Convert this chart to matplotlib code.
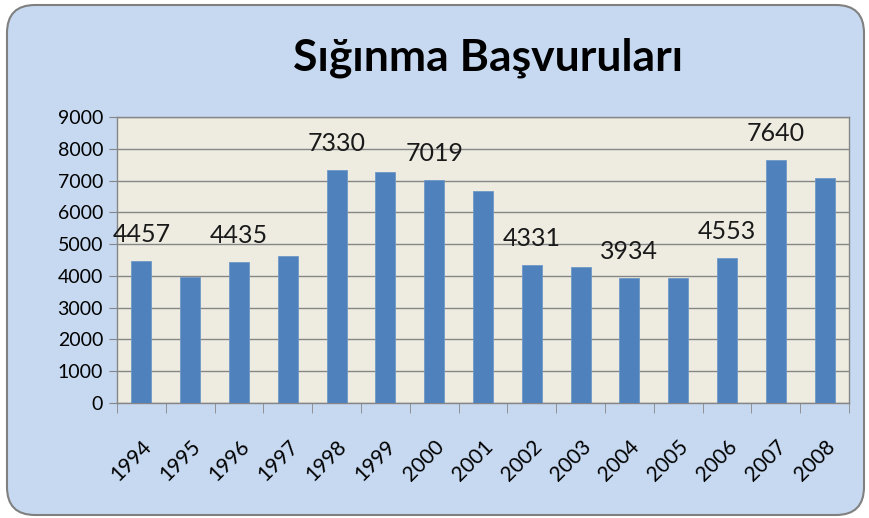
import matplotlib
matplotlib.use("Agg")
import matplotlib.pyplot as plt
from matplotlib.patches import FancyBboxPatch
import numpy as np

plt.rcParams['font.family'] = ['Lato', 'DejaVu Sans']

# Sığınma başvuruları
years = ['1994', '1995', '1996', '1997', '1998', '1999', '2000', '2001',
         '2002', '2003', '2004', '2005', '2006', '2007', '2008']
applications = [4457, 3970, 4435, 4620, 7330, 7280, 7019, 6670,
                4331, 4290, 3934, 3930, 4553, 7640, 7070]
labelled_years = ['1994', '1996', '1998', '2000', '2002', '2004', '2006', '2007']
y_ticks = [0, 1000, 2000, 3000, 4000, 5000, 6000, 7000, 8000, 9000]

W, H = 869, 518
fig = plt.figure(figsize=(W / 100, H / 100), dpi=100)
fig.patch.set_facecolor('white')

# rounded chart-area background (pixel units)
bg = fig.add_axes([0, 0, 1, 1])
bg.set_xlim(0, W)
bg.set_ylim(0, H)
bg.axis('off')
frame = FancyBboxPatch((7, 3), W - 12, H - 8,
                       boxstyle="round,pad=0,rounding_size=28",
                       facecolor='#C6D9F1', edgecolor='#808080', linewidth=1.5)
bg.add_patch(frame)

fig.text(488 / W, 1 - 58 / H, 'Sığınma Başvuruları', ha='center', va='center',
         fontsize=32, fontweight='bold', color='black')

ax = fig.add_axes([117 / W, 1 - 403 / H, (849 - 117) / W, (403 - 117) / H])
ax.set_facecolor('#EEECE1')

x = np.arange(len(years))
ax.bar(x, applications, width=0.41, color='#4F81BD', edgecolor='#6F97C8',
       linewidth=0.6, zorder=3)

for i, (yr, v) in enumerate(zip(years, applications)):
    if yr in labelled_years:
        ax.annotate(str(v), (i, v), xytext=(0, 14), textcoords='offset points',
                    ha='center', va='baseline', fontsize=18, color='#1a1a1a')

ax.set_xlim(-0.5, len(years) - 0.5)
ax.set_ylim(0, 9000)
ax.set_yticks(y_ticks)
ax.set_yticklabels([str(t) for t in y_ticks], fontsize=14)
ax.yaxis.grid(True, color='#868686', linewidth=1, zorder=0)
ax.set_axisbelow(True)

ax.set_xticks(x)
ax.set_xticklabels(years, rotation=45, ha='right', rotation_mode='anchor',
                   fontsize=15)
ax.tick_params(axis='x', length=0, pad=24)
ax.set_xticks(np.arange(-0.5, len(years), 1), minor=True)
ax.tick_params(axis='x', which='minor', length=7, color='#868686', direction='out')
ax.tick_params(axis='y', length=6, color='#868686', direction='out', pad=4)

for s in ax.spines.values():
    s.set_color('#868686')
    s.set_linewidth(1)

fig.savefig('out.png', dpi=100, facecolor='white')
